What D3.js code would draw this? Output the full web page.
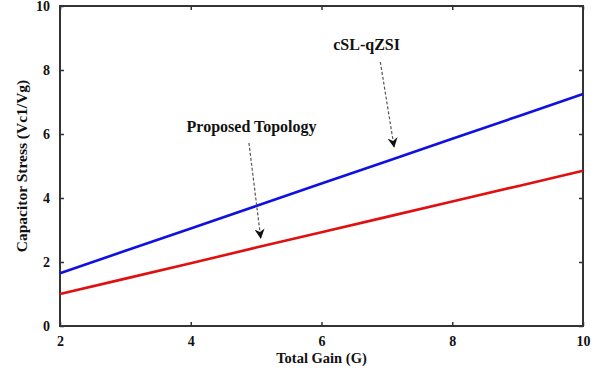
<!DOCTYPE html>
<html>
<head>
<meta charset="utf-8">
<script src="https://cdn.jsdelivr.net/npm/d3@7"></script>
<style>
  body { margin: 0; background: #fff; }
  text { font-family: "Liberation Serif", "Times New Roman", serif; font-weight: bold; }
</style>
</head>
<body>
<script>
// values
const gain = [2, 3, 4, 5, 6, 7, 8, 9, 10];
const cslQzsi = [1.65, 2.35, 3.05, 3.75, 4.45, 5.15, 5.85, 6.55, 7.25];
const proposed = [1.0, 1.48, 1.96, 2.45, 2.93, 3.41, 3.89, 4.37, 4.85];
const xTicks = [2, 4, 6, 8, 10];
const yTicks = [0, 2, 4, 6, 8, 10];

const width = 595, height = 373;
const margin = { top: 6, right: 12, bottom: 47, left: 60 };

const svg = d3.select("body").append("svg")
  .attr("width", width)
  .attr("height", height);

const x = d3.scaleLinear().domain([2, 10]).range([margin.left, width - margin.right]);
const y = d3.scaleLinear().domain([0, 10]).range([height - margin.bottom, margin.top]);

const defs = svg.append("defs");
defs.append("marker")
  .attr("id", "head")
  .attr("viewBox", "0 0 10 10")
  .attr("refX", 9).attr("refY", 5)
  .attr("markerWidth", 10).attr("markerHeight", 10)
  .attr("markerUnits", "userSpaceOnUse")
  .attr("orient", "auto")
  .append("path")
  .attr("d", "M0,0 L10,5 L0,10 L3,5 Z")
  .attr("fill", "#111");

// axes, ticks pointing inward
const axisColor = "#333";
function styleAxis(g, hideText) {
  g.select(".domain").remove();
  g.selectAll(".tick line").attr("stroke", axisColor).attr("stroke-width", 1.5);
  g.selectAll(".tick text").attr("fill", "#111").attr("font-size", 14);
  if (hideText) g.selectAll(".tick text").remove();
}

svg.append("g")
  .attr("transform", `translate(0,${y(0)})`)
  .call(d3.axisBottom(x).tickValues(xTicks).tickSize(-4).tickPadding(10))
  .call(g => styleAxis(g));
svg.append("g")
  .attr("transform", `translate(0,${y(10)})`)
  .call(d3.axisTop(x).tickValues(xTicks).tickSize(-4))
  .call(g => styleAxis(g, true));
svg.append("g")
  .attr("transform", `translate(${x(2)},0)`)
  .call(d3.axisLeft(y).tickValues(yTicks).tickSize(-4).tickPadding(10))
  .call(g => styleAxis(g));
svg.append("g")
  .attr("transform", `translate(${x(10)},0)`)
  .call(d3.axisRight(y).tickValues(yTicks).tickSize(-4))
  .call(g => styleAxis(g, true));

svg.append("rect")
  .attr("x", x(2)).attr("y", y(10))
  .attr("width", x(10) - x(2)).attr("height", y(0) - y(10))
  .attr("fill", "none")
  .attr("stroke", axisColor)
  .attr("stroke-width", 2);

// curves
const line = d3.line().x(d => x(d[0])).y(d => y(d[1]));
svg.append("path")
  .datum(gain.map((g, i) => [g, cslQzsi[i]]))
  .attr("d", line)
  .attr("fill", "none").attr("stroke", "#1010e0").attr("stroke-width", 2.6);
svg.append("path")
  .datum(gain.map((g, i) => [g, proposed[i]]))
  .attr("d", line)
  .attr("fill", "none").attr("stroke", "#e01010").attr("stroke-width", 2.6);

// annotations
const notes = [
  { text: "cSL-qZSI", tx: 6.69, ty: 8.73, x1: 6.9, y1: 8.25, x2: 7.11, y2: 5.6 },
  { text: "Proposed Topology", tx: 4.93, ty: 6.19, x1: 4.89, y1: 5.72, x2: 5.07, y2: 2.75 }
];
notes.forEach(n => {
  svg.append("text")
    .attr("x", x(n.tx)).attr("y", y(n.ty))
    .attr("text-anchor", "middle").attr("dominant-baseline", "middle")
    .attr("font-size", 16).attr("fill", "#111")
    .text(n.text);
  svg.append("line")
    .attr("x1", x(n.x1)).attr("y1", y(n.y1))
    .attr("x2", x(n.x2)).attr("y2", y(n.y2))
    .attr("stroke", "#555").attr("stroke-width", 1.2)
    .attr("stroke-dasharray", "3,2")
    .attr("marker-end", "url(#head)");
});

// axis titles
svg.append("text")
  .attr("x", (x(2) + x(10)) / 2).attr("y", 363)
  .attr("text-anchor", "middle")
  .attr("font-size", 14.5).attr("fill", "#111")
  .text("Total Gain (G)");
svg.append("text")
  .attr("transform", `translate(27,${(y(0) + y(10)) / 2}) rotate(-90)`)
  .attr("text-anchor", "middle")
  .attr("font-size", 15.5).attr("fill", "#111")
  .text("Capacitor Stress (Vc1/Vg)");
</script>
</body>
</html>
